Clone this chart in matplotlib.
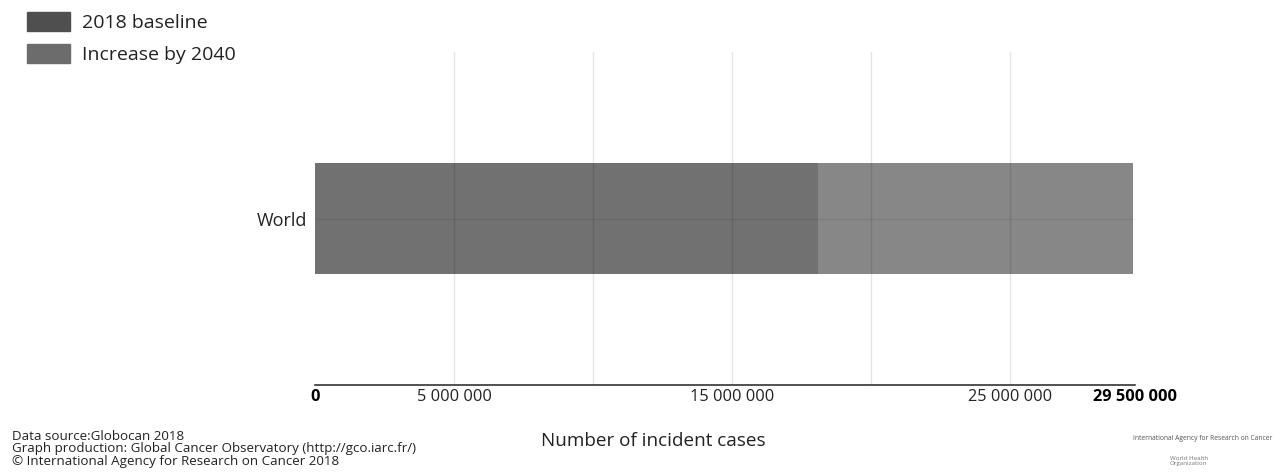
import matplotlib.pyplot as plt
from matplotlib.patches import Patch

plt.rcParams['font.family'] = ['Open Sans', 'DejaVu Sans']

# Data
regions = ['World']
baseline_2018 = [18_080_000]
increase_2040 = [11_350_000]
tick_values = [0, 5_000_000, 15_000_000, 25_000_000, 29_500_000]
tick_labels = ['0', '5 000 000', '15 000 000', '25 000 000', '29 500 000']
grid_values = [5_000_000, 10_000_000, 15_000_000, 20_000_000, 25_000_000]
footer_lines = ['Data source:Globocan 2018',
                'Graph production: Global Cancer Observatory (http://gco.iarc.fr/)',
                '\u00a9 International Agency for Research on Cancer 2018']

base_color = '#717171'
inc_color = '#878787'

fig = plt.figure(figsize=(12.8, 4.72), dpi=100)
ax = fig.add_axes([315 / 1280, 1 - 385 / 472, 820 / 1280, 333 / 472])

ax.barh(regions, baseline_2018, height=1.0, color=base_color, zorder=1)
ax.barh(regions, increase_2040, left=baseline_2018, height=1.0, color=inc_color, zorder=1)

ax.set_xlim(0, 29_500_000)
ax.set_ylim(-1.5, 1.5)

# faint grid drawn over the bars (semi-transparent so it shows on both)
for g in grid_values:
    ax.axvline(g, color='black', alpha=0.1, lw=1, zorder=3)
ax.axhline(0, color='black', alpha=0.06, lw=1, zorder=3)

for s in ['top', 'right', 'left']:
    ax.spines[s].set_visible(False)
ax.spines['bottom'].set_color('#333333')
ax.spines['bottom'].set_linewidth(1.2)

ax.set_xticks(tick_values)
ax.set_xticklabels(tick_labels, fontsize=11.8, color='#222222')
for lbl in ax.get_xticklabels():
    if lbl.get_text() in ('0', '29 500 000'):
        lbl.set_fontweight('bold')
        lbl.set_color('#000000')
ax.tick_params(axis='x', length=0, pad=3)
ax.tick_params(axis='y', length=0, pad=6, labelsize=13, labelcolor='#222222')

handles = [Patch(color='#4f4f4f', label='2018 baseline'),
           Patch(color='#6c6c6c', label='Increase by 2040')]
fig.legend(handles=handles, loc='upper left', bbox_to_anchor=(27 / 1280, 1 - 12 / 472),
           frameon=False, fontsize=14, handlelength=2.2, handleheight=1.1,
           labelspacing=0.62, handletextpad=0.65, borderpad=0, borderaxespad=0,
           labelcolor='#222222')

fig.text(653 / 1280, 1 - 441 / 472, 'Number of incident cases', ha='center',
         va='center', fontsize=13.6, color='#222222')

for i, line in enumerate(footer_lines):
    fig.text(12 / 1280, 1 - (436 + 12.5 * i) / 472, line, ha='left', va='center',
             fontsize=9.6, color='#222222')

fig.text(1133 / 1280, 1 - 439 / 472, 'International Agency for Research on Cancer',
         ha='left', va='center', fontsize=4.9, color='#555555')
fig.text(1170 / 1280, 1 - 461 / 472, 'World Health\nOrganization',
         ha='left', va='center', fontsize=4.5, color='#777777', linespacing=0.9)

fig.savefig('out.png', dpi=100)
